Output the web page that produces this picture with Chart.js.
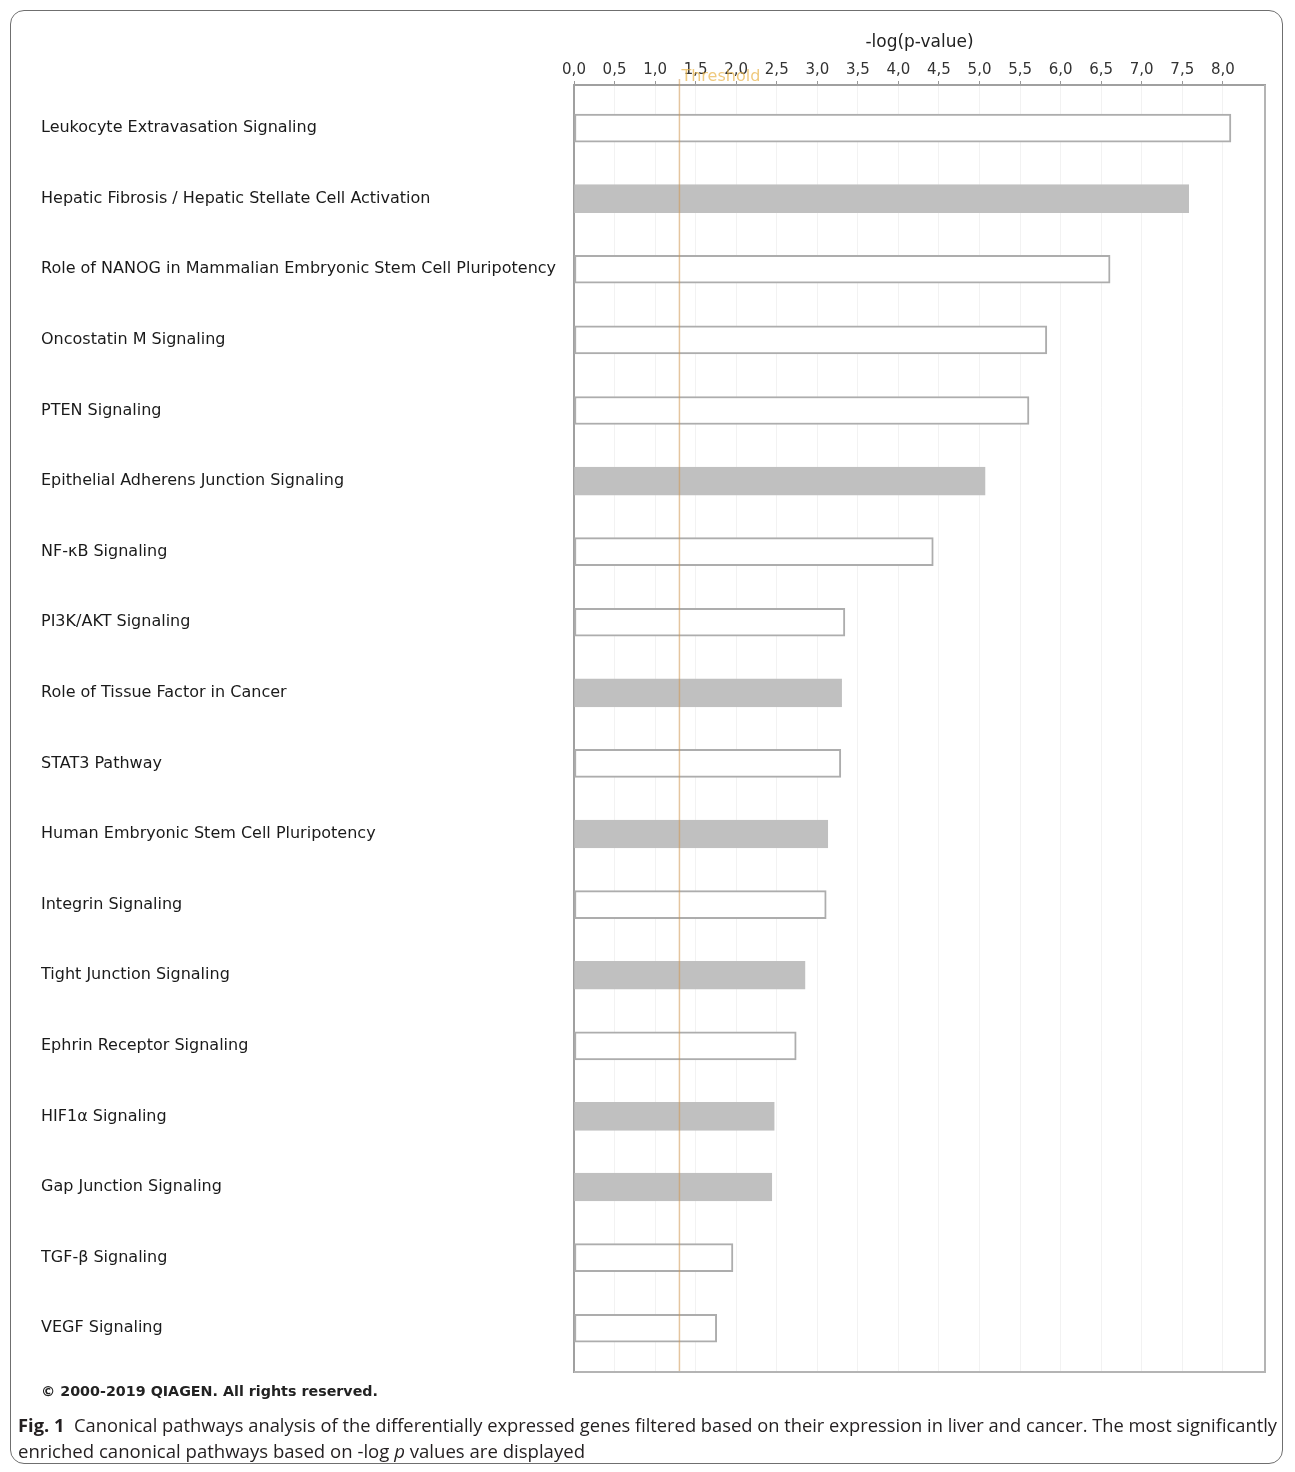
<!DOCTYPE html>
<html><head><meta charset="utf-8">
<script src="https://cdn.jsdelivr.net/npm/chart.js@4.4.1/dist/chart.umd.min.js"></script>
<style>
html,body{margin:0;padding:0;background:#fff;}
#wrap{position:relative;width:1295px;height:1472px;overflow:hidden;background:#fff;}
#frame{position:absolute;left:10px;top:10px;width:1273px;height:1454px;border:1.5px solid #6f6f6f;border-radius:14px;box-sizing:border-box;}
#chart{position:absolute;left:0;top:0;}
.txt{position:absolute;white-space:nowrap;transform-origin:0 50%;line-height:20px;}
#copy{left:41px;top:1381px;font-weight:bold;font-size:14px;font-family:"DejaVu Sans";color:#222;}
#cap1{left:18px;top:1415px;font-size:18px;font-family:"Open Sans";color:#231f20;}
#cap2{left:18px;top:1441px;font-size:18px;font-family:"Open Sans";color:#231f20;}
</style>
</head><body>
<div id="wrap">
<div id="frame"></div>
<canvas id="chart" width="1295" height="1472"></canvas>
<div class="txt" id="copy">© 2000-2019 QIAGEN. All rights reserved.</div>
<div class="txt" id="cap1"><b>Fig. 1</b>&nbsp; Canonical pathways analysis of the differentially expressed genes filtered based on their expression in liver and cancer. The most significantly</div>
<div class="txt" id="cap2">enriched canonical pathways based on -log <i>p</i> values are displayed</div>
</div>
<script>
const categories = [
  "Leukocyte Extravasation Signaling",
  "Hepatic Fibrosis / Hepatic Stellate Cell Activation",
  "Role of NANOG in Mammalian Embryonic Stem Cell Pluripotency",
  "Oncostatin M Signaling",
  "PTEN Signaling",
  "Epithelial Adherens Junction Signaling",
  "NF-κB Signaling",
  "PI3K/AKT Signaling",
  "Role of Tissue Factor in Cancer",
  "STAT3 Pathway",
  "Human Embryonic Stem Cell Pluripotency",
  "Integrin Signaling",
  "Tight Junction Signaling",
  "Ephrin Receptor Signaling",
  "HIF1α Signaling",
  "Gap Junction Signaling",
  "TGF-β Signaling",
  "VEGF Signaling"
];
const logP = [8.10, 7.58, 6.61, 5.83, 5.61, 5.07, 4.43, 3.34, 3.30, 3.29, 3.13, 3.11, 2.85, 2.74, 2.47, 2.44, 1.96, 1.76];
const shaded = [false, true, false, false, false, true, false, false, true, false, true, false, true, false, true, true, false, false];
const xTicks = [0, 0.5, 1, 1.5, 2, 2.5, 3, 3.5, 4, 4.5, 5, 5.5, 6, 6.5, 7, 7.5, 8];
const threshold = 1.30;
const thresholdLabel = "Threshold";
const axisTitle = "-log(p-value)";

const points = logP.map((v, i) => ({x: v, y: i}));

const extras = {
  id: 'extras',
  afterDatasetsDraw(chart) {
    const {ctx, chartArea: a, scales: {x}} = chart;
    const tx = x.getPixelForValue(threshold);
    ctx.save();
    ctx.strokeStyle = 'rgba(205,150,80,0.55)';
    ctx.lineWidth = 1.5;
    ctx.beginPath();
    ctx.moveTo(tx, a.top - 6);
    ctx.lineTo(tx, a.bottom);
    ctx.stroke();
    ctx.strokeStyle = '#b4b4b4';
    ctx.lineWidth = 2;
    ctx.beginPath();
    ctx.moveTo(a.right, a.top);
    ctx.lineTo(a.right, a.bottom);
    ctx.lineTo(a.left, a.bottom);
    ctx.stroke();
    ctx.restore();
  },
  afterDraw(chart) {
    const {ctx, chartArea: a, scales: {x}} = chart;
    const tx = x.getPixelForValue(threshold);
    ctx.save();
    ctx.font = '16px "DejaVu Sans"';
    ctx.fillStyle = 'rgba(232,178,70,0.7)';
    ctx.textAlign = 'left';
    ctx.textBaseline = 'middle';
    ctx.fillText(thresholdLabel, tx + 2, a.top - 8);
    ctx.restore();
  }
};

new Chart(document.getElementById('chart'), {
  type: 'bar',
  data: {
    datasets: [{
      data: points,
      backgroundColor: ctx => shaded[ctx.dataIndex] ? '#c0c0c0' : '#ffffff',
      borderColor: ctx => shaded[ctx.dataIndex] ? '#c0c0c0' : '#adadad',
      borderWidth: 2,
      borderSkipped: false,
      barThickness: 28
    }]
  },
  options: {
    indexAxis: 'y',
    responsive: false,
    animation: false,
    devicePixelRatio: 1,
    layout: {padding: {left: 41, top: 25, right: 30, bottom: 100}},
    plugins: {legend: {display: false}, tooltip: {enabled: false}},
    scales: {
      x: {
        type: 'linear',
        position: 'top',
        min: 0,
        max: 8.52,
        afterBuildTicks: s => { s.ticks = xTicks.map(v => ({value: v})); },
        afterFit: s => { s.height = 60; },
        ticks: {
          padding: 2,
          color: '#333',
          font: {family: 'DejaVu Sans', size: 15},
          callback: v => v.toFixed(1).replace('.', ','),
          maxRotation: 0,
          autoSkip: false
        },
        grid: {color: 'rgba(0,0,0,0.05)', tickLength: 4, tickColor: '#999', lineWidth: 1},
        border: {display: true, color: '#a0a0a0', width: 2},
        title: {display: true, text: axisTitle, color: '#222', font: {family: 'DejaVu Sans', size: 17}, padding: {top: 7, bottom: 0}}
      },
      y: {
        type: 'linear',
        reverse: true,
        offset: false,
        min: -0.61,
        max: 17.62,
        afterBuildTicks: s => { s.ticks = categories.map((c, i) => ({value: i})); },
        afterFit: s => { s.width = 533; },
        ticks: {
          crossAlign: 'far',
          autoSkip: false,
          color: '#1a1a1a',
          font: {family: 'DejaVu Sans', size: 16},
          callback: v => categories[v]
        },
        grid: {display: true, offset: false, drawOnChartArea: false, drawTicks: false, color: 'rgba(0,0,0,0)'},
        border: {display: true, color: '#a0a0a0', width: 2}
      }
    }
  },
  plugins: [extras]
});

function fit(id, target) {
  const el = document.getElementById(id);
  const w = el.getBoundingClientRect().width;
  el.style.transform = 'scaleX(' + (target / w) + ')';
}
fit('copy', 337);
fit('cap1', 1259);
fit('cap2', 567);
</script>
</body></html>
